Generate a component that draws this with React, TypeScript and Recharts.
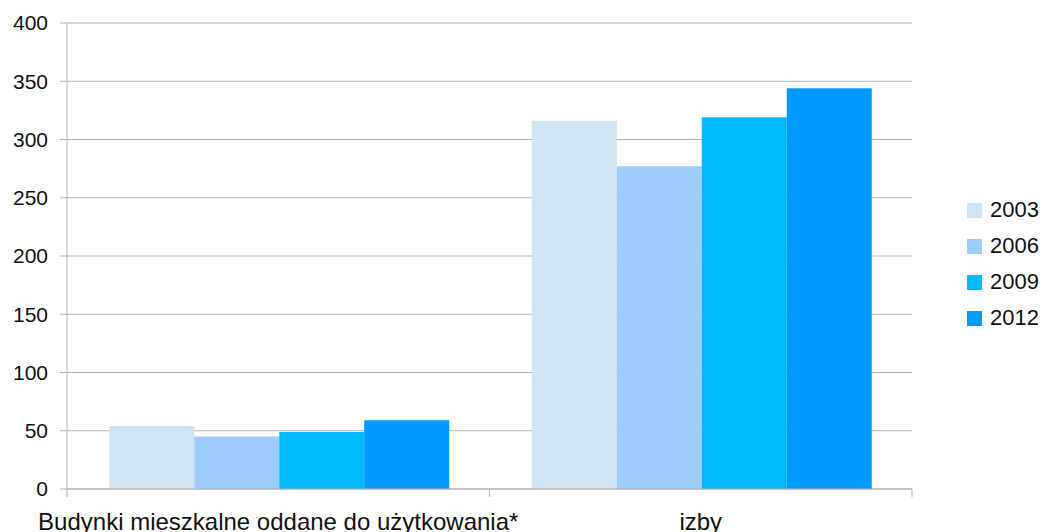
import React from "react";
import { BarChart, Bar, XAxis, YAxis, CartesianGrid } from "recharts";

const categories = ["Budynki mieszkalne oddane do użytkowania*", "izby"];
const series2003 = [54, 316];
const series2006 = [45, 277];
const series2009 = [49, 319];
const series2012 = [59, 344];
const years = ["2003", "2006", "2009", "2012"];
const colors = ["#cfe4f2", "#9ccdfd", "#00b9ff", "#009aff"];
const yTicks = [0, 50, 100, 150, 200, 250, 300, 350, 400];

const data = categories.map((c, i) => ({
  name: c,
  y2003: series2003[i],
  y2006: series2006[i],
  y2009: series2009[i],
  y2012: series2012[i],
}));

const FONT = "'Liberation Sans', Arial, sans-serif";
const W = 1043;
const H = 532;
const M = { top: 23, right: 131, bottom: 0, left: 0 };
const X_H = 43;
const Y_W = 67;
const BAND = (W - M.right - M.left - Y_W) / categories.length;

const XTick = (props: any) => {
  const { x, y, payload } = props;
  return (
    <g>
      <line x1={x - BAND / 2} y1={y - 8} x2={x - BAND / 2} y2={y} stroke="#b3b3b3" />
      <line x1={x + BAND / 2} y1={y - 8} x2={x + BAND / 2} y2={y} stroke="#b3b3b3" />
      <text x={x} y={y + 16} textAnchor="middle" dy="0.71em" fontSize={24} fill="#111" fontFamily={FONT}>
        {payload.value}
      </text>
    </g>
  );
};

const LegendBox = () => (
  <div style={{ position: "absolute", left: 967, top: 192, fontFamily: FONT, fontSize: 22, color: "#111" }}>
    {years.map((yr, i) => (
      <div key={yr} style={{ display: "flex", alignItems: "center", height: 36 }}>
        <div style={{ width: 15, height: 15, background: colors[i], marginRight: 8 }} />
        <span>{yr}</span>
      </div>
    ))}
  </div>
);

export default function App() {
  return (
    <div style={{ position: "absolute", left: 0, top: 0, width: W, height: H, background: "#fff", overflow: "hidden" }}>
      <BarChart width={W} height={H} data={data} margin={M} barGap={0} barCategoryGap="10%">
        <CartesianGrid vertical={false} stroke="#b3b3b3" />
        <XAxis
          dataKey="name"
          tick={<XTick />}
          tickLine={false}
          axisLine={{ stroke: "#b3b3b3" }}
          height={X_H}
          interval={0}
        />
        <YAxis
          domain={[0, 400]}
          ticks={yTicks}
          width={Y_W}
          tickSize={7}
          tickMargin={12}
          axisLine={{ stroke: "#b3b3b3" }}
          tickLine={{ stroke: "#b3b3b3" }}
          tick={{ fontSize: 21, fill: "#111", fontFamily: FONT }}
          interval={0}
        />
        <Bar dataKey="y2003" name="2003" fill={colors[0]} isAnimationActive={false} />
        <Bar dataKey="y2006" name="2006" fill={colors[1]} isAnimationActive={false} />
        <Bar dataKey="y2009" name="2009" fill={colors[2]} isAnimationActive={false} />
        <Bar dataKey="y2012" name="2012" fill={colors[3]} isAnimationActive={false} />
      </BarChart>
      <LegendBox />
    </div>
  );
}
